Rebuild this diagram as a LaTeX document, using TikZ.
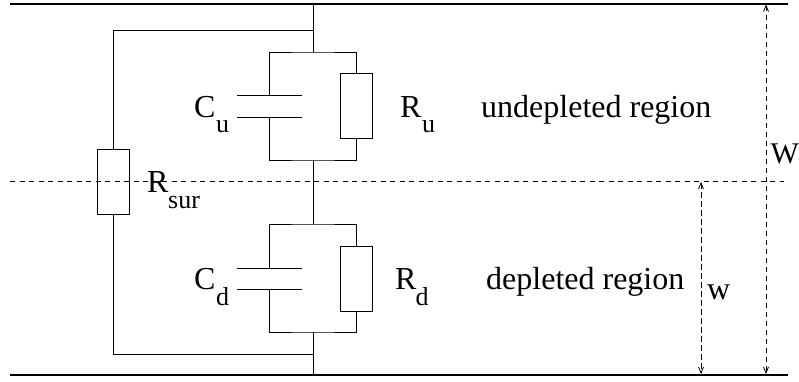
\documentclass[tikz,border=0pt]{standalone}
\usepackage{fontspec}
\setmainfont{Liberation Serif}
\usetikzlibrary{arrows.meta}
\newcommand{\bigsize}{\fontsize{32}{36}\selectfont}
\newcommand{\smallsize}{\fontsize{26}{30}\selectfont}
\newcommand{\edgesize}{\fontsize{30}{34}\selectfont}
\tikzset{
	wire/.style={line width=0.9pt},
	rail/.style={line width=2pt},
	plate/.style={line width=0.9pt},
	cut/.style={line width=0.8pt, dash pattern=on 5pt off 4.5pt},
	span/.style={line width=0.8pt, dash pattern=on 5.5pt off 3.5pt, {Straight Barb[length=6pt,width=5pt]}-{Straight Barb[length=6pt,width=5pt]}},
	rbox/.style={draw, line width=0.9pt, inner sep=0pt, minimum width=32pt, minimum height=65pt},
	lab/.style={inner sep=0pt, anchor=base west, font=\bigsize},
	sub/.style={inner sep=0pt, anchor=base west, font=\smallsize}
}
\begin{document}
\begin{tikzpicture}[x=1pt, y=-1pt]
	\useasboundingbox (0,0) rectangle (799,381);
	% rails and the cut between the regions
	\coordinate (railtl) at (10,3.5);
	\coordinate (railtr) at (788,3.5);
	\coordinate (railbl) at (10,375);
	\coordinate (railbr) at (788,375);
	\coordinate (cutl) at (10,181.5);
	\coordinate (cutr) at (784,181.5);
	\draw[rail] (railtl) -- (railtr);
	\draw[rail] (railbl) -- (railbr);
	\draw[cut] (cutl) -- (cutr);
	
	% resistors
	\node[rbox] at (113,181.5) (rsur) {};
	\node[rbox] at (356,105.5) (ru) {};
	\node[rbox] at (356,278.5) (rd) {};
	
	% junctions on the middle wire
	\coordinate (mtop) at (313,3.5);
	\coordinate (msurt) at (313,30);
	\coordinate (mut) at (313,52);
	\coordinate (mub) at (313,160);
	\coordinate (mdt) at (313,224);
	\coordinate (mdb) at (313,332);
	\coordinate (msurb) at (313,354);
	\coordinate (mbot) at (313,375);
	\draw[wire] (mtop) -- (mut);
	\draw[wire] (mub) -- (mdt);
	\draw[wire] (mdb) -- (mbot);
	
	% outer branch
	\draw[wire] (msurt) -| (rsur.north);
	\draw[wire] (msurb) -| (rsur.south);
	
	% capacitor plates
	\coordinate (cul1) at (237,95);
	\coordinate (cur1) at (302,95);
	\coordinate (cul2) at (237,117);
	\coordinate (cur2) at (302,117);
	\coordinate (cu1) at (269.5,95);
	\coordinate (cu2) at (269.5,117);
	\coordinate (cdl1) at (237,268);
	\coordinate (cdr1) at (302,268);
	\coordinate (cdl2) at (237,289.5);
	\coordinate (cdr2) at (302,289.5);
	\coordinate (cd1) at (269.5,268);
	\coordinate (cd2) at (269.5,289.5);
	\draw[plate] (cul1) -- (cur1);
	\draw[plate] (cul2) -- (cur2);
	\draw[plate] (cdl1) -- (cdr1);
	\draw[plate] (cdl2) -- (cdr2);
	
	% upper parallel pair
	\draw[wire] (cu1) |- (mut) -| (ru.north);
	\draw[wire] (cu2) |- (mub) -| (ru.south);
	
	% lower parallel pair
	\draw[wire] (cd1) |- (mdt) -| (rd.north);
	\draw[wire] (cd2) |- (mdb) -| (rd.south);
	
	% thickness arrows
	\coordinate (bigt) at (766,4.5);
	\coordinate (bigb) at (766,374);
	\coordinate (smallt) at (701,182);
	\coordinate (smallb) at (701,374);
	\draw[span] (bigt) -- (bigb);
	\draw[span] (smallt) -- (smallb);
	
	% labels
	\node[lab] at (194,117) (cuname) {C};
	\node[sub] at (216,132.5) (cusub) {u};
	\node[lab] at (400,117) (runame) {R};
	\node[sub] at (422,132.5) (rusub) {u};
	\node[lab] at (194,289) (cdname) {C};
	\node[sub] at (216,305) (cdsub) {d};
	\node[lab] at (395,289) (rdname) {R};
	\node[sub] at (415.5,305) (rdsub) {d};
	\node[lab] at (147,192) (rsurname) {R};
	\node[sub] at (168,208) (rsursub) {sur};
	\node[lab] at (481,117) (undep) {undepleted region};
	\node[lab] at (486,289) (dep) {depleted region};
	\node[lab, font=\edgesize] at (770.5,163) (bigw) {W};
	\node[lab] at (707,299) (smallw) {w};
\end{tikzpicture}
\end{document}
